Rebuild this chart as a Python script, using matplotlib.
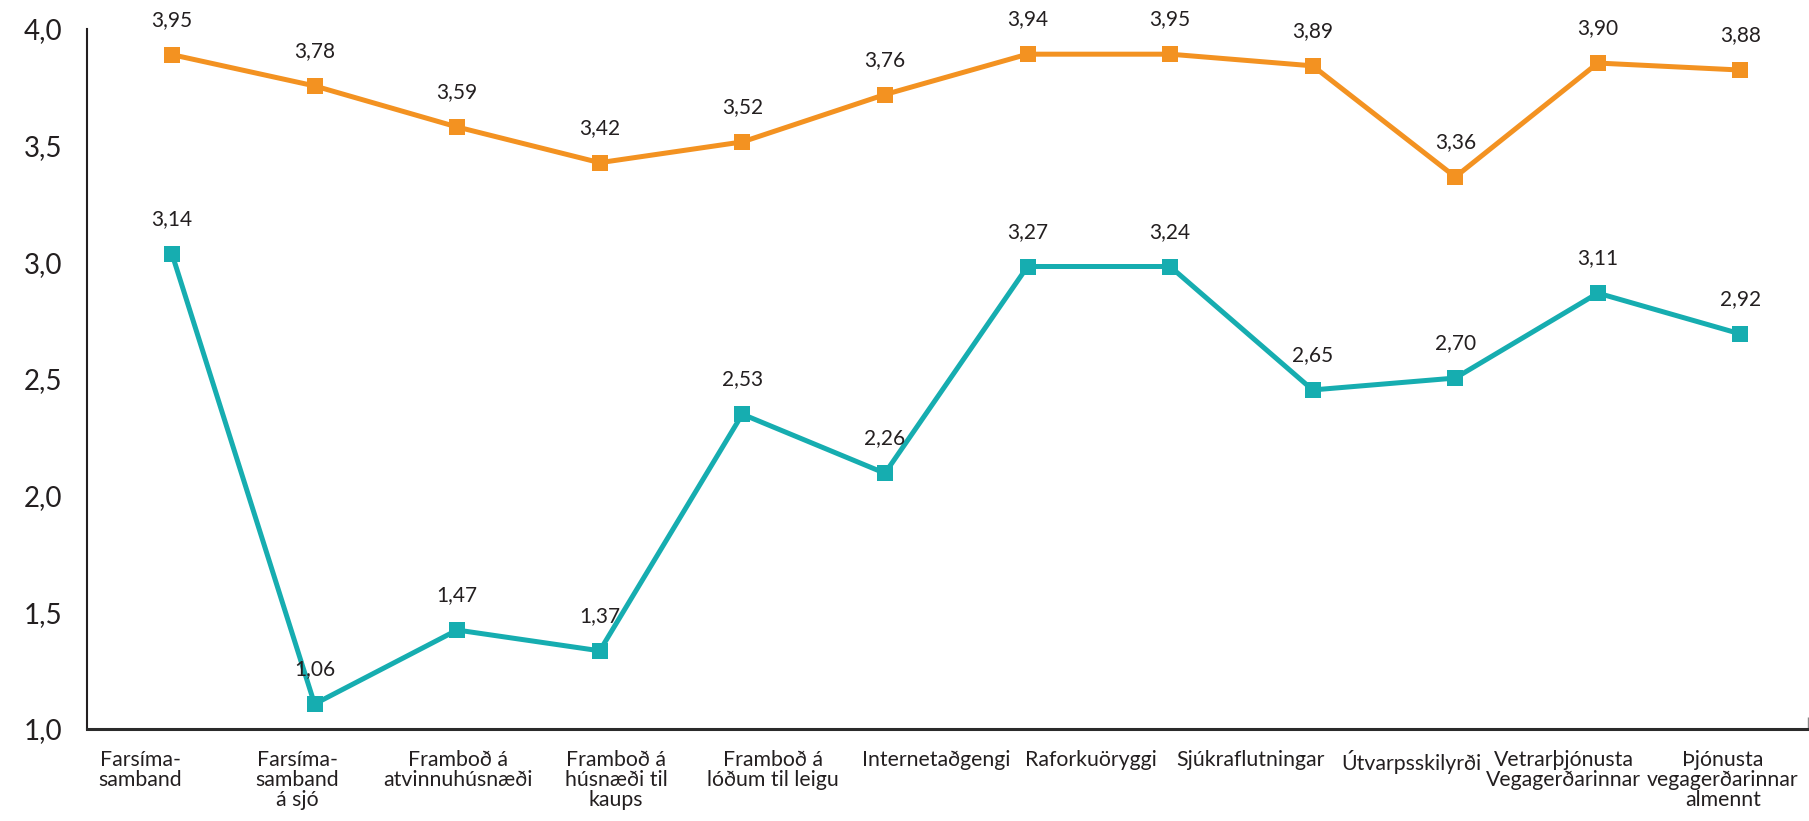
import matplotlib
matplotlib.use("Agg")
import matplotlib.pyplot as plt

plt.rcParams['font.family'] = ['Lato', 'DejaVu Sans']

# Data
categories = [
    "Farsíma-\nsamband",
    "Farsíma-\nsamband\ná sjó",
    "Framboð á\natvinnuhúsnæði",
    "Framboð á\nhúsnæði til\nkaups",
    "Framboð á\nlóðum til leigu",
    "Internetaðgengi",
    "Raforkuöryggi",
    "Sjúkraflutningar",
    "Útvarpsskilyrði",
    "Vetrarþjónusta\nVegagerðarinnar",
    "Þjónusta\nvegagerðarinnar\nalmennt",
]
# plotted marker heights (as drawn in the reference)
orange_values = [3.89, 3.756, 3.58, 3.427, 3.516, 3.719, 3.892, 3.892, 3.842, 3.366, 3.854, 3.824]
teal_values = [3.036, 1.107, 1.424, 1.335, 2.349, 2.096, 2.982, 2.982, 2.453, 2.504, 2.868, 2.693]
# data labels printed above the markers
orange_labels = ["3,95", "3,78", "3,59", "3,42", "3,52", "3,76", "3,94", "3,95", "3,89", "3,36", "3,90", "3,88"]
teal_labels = ["3,14", "1,06", "1,47", "1,37", "2,53", "2,26", "3,27", "3,24", "2,65", "2,70", "3,11", "2,92"]
y_ticks = [1.0, 1.5, 2.0, 2.5, 3.0, 3.5, 4.0]
y_tick_labels = ["1,0", "1,5", "2,0", "2,5", "3,0", "3,5", "4,0"]

# layout: category label positions along x (label row is offset from points)
label_pos = [-0.224, 0.877, 2.006, 3.114, 4.215, 5.358, 6.445, 7.567, 8.689, 9.762, 10.877]

ORANGE = "#F39221"
TEAL = "#16ADB0"
TEXT = "#231F20"

fig = plt.figure(figsize=(18.09, 8.21), dpi=100)
ax = fig.add_axes([0.04809, 0.1121, 0.9513, 0.8526])

x = list(range(len(orange_values)))
ax.plot(x, orange_values, color=ORANGE, lw=3.6, marker="s", ms=11.5,
        markeredgewidth=0, solid_joinstyle="miter", zorder=3, clip_on=False)
ax.plot(x, teal_values, color=TEAL, lw=3.6, marker="s", ms=11.5,
        markeredgewidth=0, solid_joinstyle="miter", zorder=3, clip_on=False)

for xi, v, lab in zip(x, orange_values, orange_labels):
    ax.annotate(lab, (xi, v), xytext=(0, 25), textcoords="offset points",
                ha="center", va="center", fontsize=15, color=TEXT)
for xi, v, lab in zip(x, teal_values, teal_labels):
    ax.annotate(lab, (xi, v), xytext=(0, 25), textcoords="offset points",
                ha="center", va="center", fontsize=15, color=TEXT)

ax.set_xlim(-0.596, 11.473)
ax.set_ylim(1.0, 4.0)

ax.set_yticks(y_ticks)
ax.set_yticklabels(y_tick_labels, fontsize=20, color=TEXT)
ax.tick_params(axis="y", which="major", length=0, pad=17.5)
ax.set_yticks([4.0], minor=True)
ax.tick_params(axis="y", which="minor", direction="in", length=11.5, width=1.5, color=TEXT)

ax.set_xticks(label_pos)
ax.set_xticklabels(categories, fontsize=15.3, color=TEXT, linespacing=1.02, va="top")
ax.tick_params(axis="x", which="major", length=0, pad=15)
ax.set_xticks([11.473], minor=True)
ax.tick_params(axis="x", which="minor", direction="in", length=8.6, width=1.0, color="#888888")

for s in ["top", "right"]:
    ax.spines[s].set_visible(False)
ax.spines["left"].set_color(TEXT)
ax.spines["left"].set_linewidth(1.5)
ax.spines["bottom"].set_color("#2b2b2b")
ax.spines["bottom"].set_linewidth(2.2)

fig.savefig("out.png", dpi=100, facecolor="white")
